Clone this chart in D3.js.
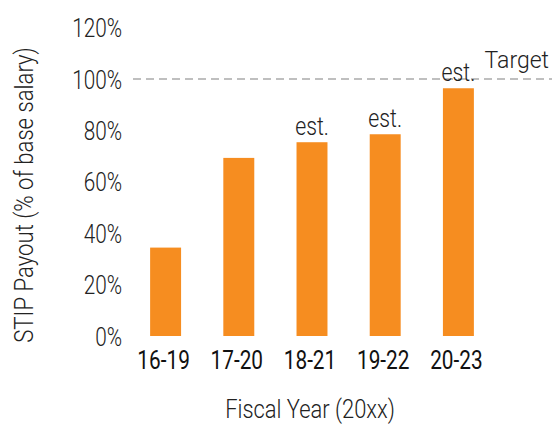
<!DOCTYPE html>
<html>
<head>
<meta charset="utf-8">
<script src="https://cdn.jsdelivr.net/npm/d3@7"></script>
<style>
  body { margin: 0; background: #fff; }
  svg text { font-family: Roboto, "Noto Sans", sans-serif; }
</style>
</head>
<body>
<div id="chart"></div>
<script>
// fiscal year ranges and payout (fraction of base salary)
var categories = ["16-19", "17-20", "18-21", "19-22", "20-23"];
var payouts = [0.344, 0.693, 0.754, 0.785, 0.964];
var notes = ["", "", "est.", "est.", "est."];
var yTicks = [0, 0.2, 0.4, 0.6, 0.8, 1.0, 1.2];
var target = 1.0;

var width = 552, height = 424;

var svg = d3.select("#chart").append("svg")
    .attr("width", width)
    .attr("height", height);

// x scale: one band per fiscal range
var xScale = d3.scaleBand()
    .domain(categories)
    .range([129, 495])
    .paddingInner(0.577)
    .paddingOuter(0.2885);

// y scale in percent of salary
var yScale = d3.scaleLinear()
    .domain([0, 1.2])
    .range([336, 27.6]);

// y tick labels, no axis line (condensed look via scaleX)
var yAxis = svg.append("g")
    .attr("transform", "translate(122,0)")
    .call(d3.axisLeft(yScale).tickValues(yTicks).tickFormat(d3.format(".0%")).tickSize(0).tickPadding(0));
yAxis.select(".domain").remove();
yAxis.selectAll("text")
    .attr("font-size", 25)
    .attr("font-weight", 300)
    .attr("fill", "#222")
    .attr("font-family", "Roboto, sans-serif")
    .attr("dy", "0.36em")
    .attr("transform", "scale(0.83,1)");

// target line
svg.append("line")
    .attr("x1", 133)
    .attr("x2", width)
    .attr("y1", yScale(target))
    .attr("y2", yScale(target))
    .attr("stroke", "#aaa")
    .attr("stroke-width", 1.5)
    .attr("stroke-dasharray", "8,5");

svg.append("text")
    .attr("transform", "translate(549," + (yScale(target) - 11) + ")")
    .attr("text-anchor", "end")
    .attr("font-size", 23)
    .attr("font-weight", 300)
    .attr("fill", "#222")
    .text("Target");

// bars
svg.selectAll("rect.bar")
    .data(payouts)
    .enter().append("rect")
    .attr("class", "bar")
    .attr("x", function(d, i) { return xScale(categories[i]); })
    .attr("y", function(d) { return yScale(d); })
    .attr("width", xScale.bandwidth())
    .attr("height", function(d) { return yScale(0) - yScale(d); })
    .attr("fill", "#f68d20");

// "est." notes above bars
svg.selectAll("text.note")
    .data(payouts)
    .enter().append("text")
    .attr("class", "note")
    .attr("transform", function(d, i) {
        return "translate(" + (xScale(categories[i]) + xScale.bandwidth() / 2) + "," + (yScale(d) - 7) + ") scale(0.85,1)";
    })
    .attr("text-anchor", "middle")
    .attr("font-size", 25)
    .attr("font-weight", 300)
    .attr("fill", "#222")
    .text(function(d, i) { return notes[i]; });

// x tick labels
var xAxis = svg.append("g")
    .attr("transform", "translate(-2,369)")
    .call(d3.axisBottom(xScale).tickSize(0).tickPadding(0));
xAxis.select(".domain").remove();
xAxis.selectAll("text")
    .attr("font-size", 26)
    .attr("font-weight", 400)
    .attr("fill", "#111")
    .attr("font-family", "Roboto, sans-serif")
    .attr("y", 0)
    .attr("dy", 0)
    .attr("transform", "scale(0.8,1)");

// axis titles
svg.append("text")
    .attr("transform", "translate(310,418) scale(0.877,1)")
    .attr("text-anchor", "middle")
    .attr("font-size", 25)
    .attr("font-weight", 300)
    .attr("fill", "#222")
    .text("Fiscal Year (20xx)");

svg.append("text")
    .attr("transform", "translate(33,195) rotate(-90) scale(0.887,1)")
    .attr("text-anchor", "middle")
    .attr("font-size", 25)
    .attr("font-weight", 300)
    .attr("fill", "#222")
    .text("STIP Payout (% of base salary)");
</script>
</body>
</html>
